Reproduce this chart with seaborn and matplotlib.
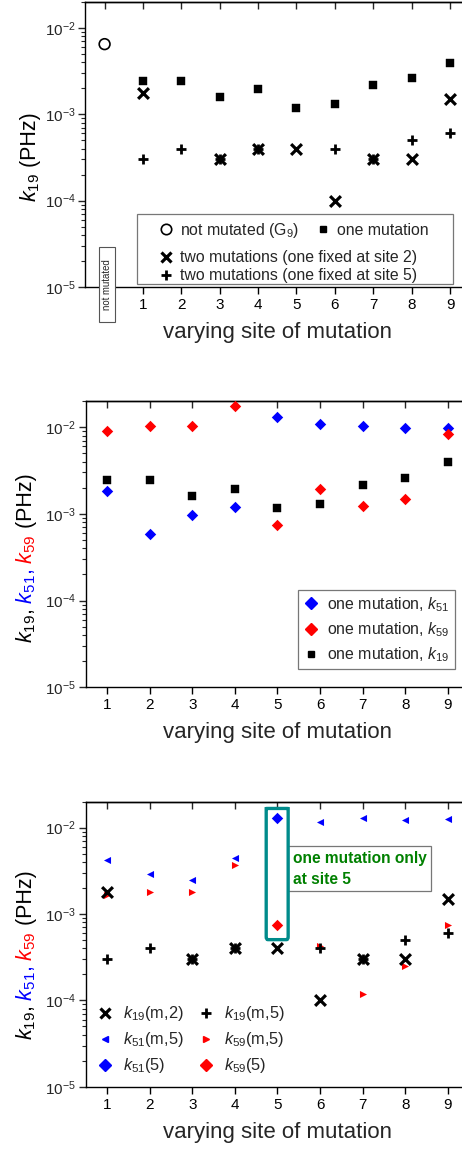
import matplotlib
matplotlib.use("Agg")
import matplotlib.pyplot as plt
import seaborn as sns
import pandas as pd
from matplotlib.lines import Line2D
from matplotlib.patches import Rectangle, FancyBboxPatch
from matplotlib.ticker import LogLocator, LogFormatterSciNotation, NullFormatter

# ---------------- data ----------------
sites = [1, 2, 3, 4, 5, 6, 7, 8, 9]
site_labels = ["1", "2", "3", "4", "5", "6", "7", "8", "9"]
not_mut_site = [0]
not_mut_k19 = [6.5e-3]
one_k19 = [2.43e-3, 2.45e-3, 1.59e-3, 1.95e-3, 1.18e-3, 1.30e-3, 2.17e-3, 2.61e-3, 3.96e-3]
one_k51 = [1.85e-3, 5.9e-4, 9.7e-4, 1.2e-3, 1.32e-2, 1.09e-2, 1.04e-2, 9.7e-3, 9.8e-3]
one_k59 = [9.1e-3, 1.04e-2, 1.03e-2, 1.77e-2, 7.45e-4, 1.92e-3, 1.22e-3, 1.5e-3, 8.4e-3]
fix2_sites = [1, 3, 4, 5, 6, 7, 8, 9]
fix2_k19 = [1.78e-3, 3e-4, 4e-4, 4e-4, 1e-4, 3e-4, 3e-4, 1.5e-3]
fix5_sites = [1, 2, 3, 4, 6, 7, 8, 9]
fix5_k19 = [3e-4, 4e-4, 3e-4, 4e-4, 4e-4, 3e-4, 5e-4, 6e-4]
fix5_k51 = [4.2e-3, 2.92e-3, 2.46e-3, 4.42e-3, 1.17e-2, 1.29e-2, 1.24e-2, 1.27e-2]
fix5_k59 = [1.68e-3, 1.79e-3, 1.8e-3, 3.7e-3, 4.3e-4, 1.19e-4, 2.53e-4, 7.45e-4]
only5_site = [5]
only5_k51 = [1.3e-2]
only5_k59 = [7.4e-4]

# ---------------- style ----------------
sns.set_theme(style="ticks")
plt.rcParams["font.family"] = ["Liberation Sans", "DejaVu Sans"]
plt.rcParams["mathtext.fontset"] = "custom"
plt.rcParams["mathtext.rm"] = "Liberation Sans"
plt.rcParams["mathtext.it"] = "Liberation Sans:italic"
plt.rcParams["mathtext.bf"] = "Liberation Sans:bold"
plt.rcParams["axes.linewidth"] = 1.0
plt.rcParams["axes.edgecolor"] = "black"

W, H = 462, 1150
fig = plt.figure(figsize=(W / 100, H / 100), dpi=100)
fig.patch.set_facecolor("white")

BLUE = "#0000ff"
RED = "#ff0000"
BLACK = "black"
TICK_FS = 11
LABEL_FS = 16
YLAB_FS = 15.5
LEG_FS = 11.4


def px_axes(left, top, width, height):
    return fig.add_axes([left / W, 1 - (top + height) / H, width / W, height / H])


def style_axes(ax, xt, xtl, xlim):
    ax.set_yscale("log")
    ax.set_ylim(1e-5, 2e-2)
    ax.set_xlim(*xlim)
    ax.set_xticks(xt)
    ax.set_xticklabels(xtl)
    ax.yaxis.set_major_locator(LogLocator(base=10, numticks=10))
    ax.yaxis.set_major_formatter(LogFormatterSciNotation())
    ax.yaxis.set_minor_locator(LogLocator(base=10, subs=range(2, 10), numticks=20))
    ax.yaxis.set_minor_formatter(NullFormatter())
    ax.tick_params(axis="x", direction="out", length=5, width=1, labelsize=TICK_FS, pad=3, colors="black")
    ax.tick_params(axis="y", which="major", direction="out", length=5, width=1, labelsize=TICK_FS, pad=2)
    ax.tick_params(axis="y", which="minor", direction="out", length=3, width=0.8)
    ax.spines["right"].set_visible(True)
    ax.spines["top"].set_visible(True)
    sec = ax.secondary_xaxis("top")
    sec.set_xticks(xt)
    sec.set_xticklabels([])
    sec.tick_params(direction="in", length=5, width=1)
    ax.set_xlabel("varying site of mutation", fontsize=LABEL_FS, labelpad=7)
    ax.set_ylabel("")
    ax.grid(False)


def multicolor_ylabel(x_px, bottom_px, pieces, fs=YLAB_FS):
    fig.canvas.draw()
    renderer = fig.canvas.get_renderer()
    y_disp = H - bottom_px
    for s, c in pieces:
        t = fig.text(x_px / W, y_disp / H, s, color=c, rotation=90,
                     rotation_mode="anchor", ha="left", va="baseline", fontsize=fs)
        bb = t.get_window_extent(renderer)
        y_disp = bb.y1


def scat(ax, x, y, marker, color, s, lw=0.0, ec=None):
    df = pd.DataFrame({"x": x, "y": y})
    kw = dict(data=df, x="x", y="y", ax=ax, marker=marker, s=s, legend=False, zorder=3)
    if marker in ("x", "+"):
        sns.scatterplot(color=color, linewidth=lw, **kw)
    else:
        sns.scatterplot(color=color, edgecolor=ec if ec else color, linewidth=lw, **kw)


# ---------------- panel 1 ----------------
ax1 = px_axes(85.4, 2, 383.8, 285)
scat(ax1, not_mut_site, not_mut_k19, "o", "none", 60, lw=1.2, ec="black")
scat(ax1, sites, one_k19, "s", BLACK, 26, lw=0.3)
scat(ax1, fix2_sites, fix2_k19, "x", BLACK, 60, lw=2.3)
scat(ax1, fix5_sites, fix5_k19, "+", BLACK, 55, lw=2.0)
style_axes(ax1, [0] + sites, [""] + site_labels, (-0.5, 9.5))

xa1 = ax1.get_xaxis_transform()
ax1.add_patch(Rectangle((-0.138, -0.124), 0.417, 0.265, transform=xa1, fc="white",
                        ec="#555555", lw=0.8, zorder=9, clip_on=False))
ax1.text(0.07, 0.009, "not mutated", transform=xa1, rotation=90,
         ha="center", va="center", fontsize=6.9, clip_on=False, zorder=10)

h_circle = Line2D([], [], marker="o", ls="", mfc="none", mec="black", mew=1.2, ms=7.5)
h_square = Line2D([], [], marker="s", ls="", color="black", ms=5)
h_x = Line2D([], [], marker="x", ls="", color="black", mew=2.3, ms=7.8)
h_plus = Line2D([], [], marker="+", ls="", color="black", mew=2.0, ms=7.5)

legA = ax1.legend([h_circle, h_square], ["not mutated (G$_9$)", "one mutation"], ncol=2,
                  loc="upper left", bbox_to_anchor=(0.180, 0.243), frameon=False,
                  fontsize=LEG_FS, handlelength=1.0, handletextpad=0.4, columnspacing=1.0,
                  borderaxespad=0, borderpad=0.2)
ax1.add_artist(legA)
legB = ax1.legend([h_x, h_plus], ["two mutations (one fixed at site 2)", "two mutations (one fixed at site 5)"],
                  loc="upper left", bbox_to_anchor=(0.180, 0.140), frameon=False,
                  fontsize=LEG_FS, handlelength=1.0, handletextpad=0.4, labelspacing=0.18,
                  borderaxespad=0, borderpad=0.2)
ax1.add_patch(Rectangle((0.134, 0.0116), 0.823, 0.2434, transform=ax1.transAxes,
                        fill=False, ec="#777777", lw=0.9, zorder=5, clip_on=False))

# ---------------- panel 2 ----------------
ax2 = px_axes(85.7, 401, 383.6, 286.3)
scat(ax2, sites, one_k51, "D", BLUE, 34)
scat(ax2, sites, one_k59, "D", RED, 34)
scat(ax2, sites, one_k19, "s", BLACK, 26, lw=0.3)
style_axes(ax2, sites, site_labels, (0.5, 9.5))

h_bD = Line2D([], [], marker="D", ls="", color=BLUE, ms=6)
h_rD = Line2D([], [], marker="D", ls="", color=RED, ms=6)
h_sq = Line2D([], [], marker="s", ls="", color="black", ms=5)
leg2 = ax2.legend([h_bD, h_rD, h_sq],
                  ["one mutation, $k_{51}$", "one mutation, $k_{59}$", "one mutation, $k_{19}$"],
                  loc="lower right", bbox_to_anchor=(0.962, 0.064), borderaxespad=0,
                  fontsize=LEG_FS, handlelength=1.0, handletextpad=0.56, labelspacing=0.42,
                  fancybox=False, framealpha=1, edgecolor="#777777", borderpad=0.3)
leg2.get_frame().set_linewidth(0.9)

# ---------------- panel 3 ----------------
ax3 = px_axes(85.7, 801.7, 383.6, 285)
scat(ax3, fix5_sites, fix5_k51, "<", BLUE, 26)
scat(ax3, fix5_sites, fix5_k59, ">", RED, 26)
scat(ax3, only5_site, only5_k51, "D", BLUE, 34)
scat(ax3, only5_site, only5_k59, "D", RED, 34)
scat(ax3, fix2_sites, fix2_k19, "x", BLACK, 60, lw=2.3)
scat(ax3, fix5_sites, fix5_k19, "+", BLACK, 55, lw=2.0)
style_axes(ax3, sites, site_labels, (0.5, 9.5))

h_bl = Line2D([], [], marker="<", ls="", color=BLUE, ms=5)
h_rr = Line2D([], [], marker=">", ls="", color=RED, ms=5)
leg3 = ax3.legend([h_x, h_bl, h_bD, h_plus, h_rr, h_rD],
                  ["$k_{19}$(m,2)", "$k_{51}$(m,5)", "$k_{51}$(5)",
                   "$k_{19}$(m,5)", "$k_{59}$(m,5)", "$k_{59}$(5)"],
                  ncol=2, loc="upper left", bbox_to_anchor=(0.02, 0.30), frameon=False,
                  fontsize=11.8, handlelength=1.0, handletextpad=0.6, columnspacing=0.85,
                  labelspacing=0.42, borderaxespad=0, borderpad=0.2)

ax3.add_patch(FancyBboxPatch((4.735, 5.05e-4), 0.515, 1.67e-2 - 5.05e-4,
                             boxstyle="round,pad=0,rounding_size=0.04",
                             transform=ax3.transData, fill=False, ec="#008b8b", lw=2.4,
                             zorder=6, clip_on=False, mutation_aspect=0.001))
ax3.text(0.540, 0.7646, "one mutation only\nat site 5", transform=ax3.transAxes,
         ha="left", va="center", multialignment="left", fontsize=11.2, fontweight="bold",
         color="#008000", linespacing=1.5, zorder=5,
         bbox=dict(boxstyle="square,pad=0.3", fc="white", ec="#777777", lw=0.9))

# ---------------- y labels ----------------
multicolor_ylabel(36, 202, [("$k_{19}$", BLACK), (" (PHz)", BLACK)])
multicolor_ylabel(32, 643, [("$k_{19}$,", BLACK), (" $k_{51}$,", BLUE), (" $k_{59}$", RED), (" (PHz)", BLACK)])
multicolor_ylabel(32, 1040, [("$k_{19}$,", BLACK), (" $k_{51}$,", BLUE), (" $k_{59}$", RED), (" (PHz)", BLACK)])

fig.savefig("out.png", dpi=100, facecolor="white")
